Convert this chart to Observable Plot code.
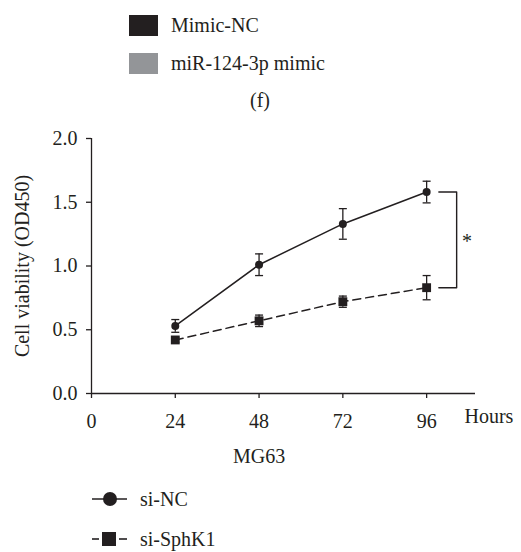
<!DOCTYPE html>
<html>
<head>
<meta charset="utf-8">
<script src="https://cdn.jsdelivr.net/npm/d3@7"></script>
<script src="https://cdn.jsdelivr.net/npm/@observablehq/plot@0.6"></script>
<style>
  html, body { margin: 0; padding: 0; background: #fff; }
  #wrap { position: relative; width: 521px; height: 552px; font-family: "Liberation Serif", serif; color: #231f20; overflow: hidden; }
  .lg { position: absolute; font-size: 20px; line-height: 20px; white-space: nowrap; }
  .sw { position: absolute; width: 29px; height: 21px; }
  #plot { position: absolute; left: 0; top: 110px; }
</style>
</head>
<body>
<div id="wrap">
  <div class="sw" style="left:129px;top:15px;background:#231f20"></div>
  <div class="lg" style="left:171px;top:15px">Mimic-NC</div>
  <div class="sw" style="left:129px;top:53px;background:#939598"></div>
  <div class="lg" style="left:171px;top:53px">miR-124-3p mimic</div>
  <div class="lg" style="left:250px;top:90px">(f)</div>
  <div id="plot"></div>
  <svg style="position:absolute;left:0;top:480px" width="140" height="72">
    <line x1="92" x2="127" y1="19" y2="19" stroke="#231f20" stroke-width="1.6"/>
    <circle cx="110" cy="19" r="7" fill="#231f20"/>
    <line x1="92" x2="99" y1="59" y2="59" stroke="#231f20" stroke-width="1.6"/>
    <line x1="119" x2="127" y1="59" y2="59" stroke="#231f20" stroke-width="1.6"/>
    <rect x="102" y="52" width="14" height="14" fill="#231f20"/>
  </svg>
  <div class="lg" style="left:140px;top:489px">si-NC</div>
  <div class="lg" style="left:140px;top:529px">si-SphK1</div>
</div>
<script>
const hours = [24, 48, 72, 96];
const xTicks = [0, 24, 48, 72, 96];
const yTicks = [0, 0.5, 1.0, 1.5, 2.0];
const siNC = [0.53, 1.01, 1.33, 1.58];
const siNCerr = [0.05, 0.085, 0.12, 0.085];
const siSphK1 = [0.42, 0.57, 0.72, 0.83];
const siSphK1err = [0.02, 0.045, 0.044, 0.095];
const xLabel = "MG63";
const xUnit = "Hours";
const yLabel = "Cell viability (OD450)";
const sigMark = "*";

const ink = "#231f20";
const rows = (vals, errs, s) => hours.map((h, i) => ({x: h, y: vals[i], lo: vals[i] - errs[i], hi: vals[i] + errs[i], s}));
const nc = rows(siNC, siNCerr, "si-NC");
const sp = rows(siSphK1, siSphK1err, "si-SphK1");
const all = nc.concat(sp);

const capSymbol = {
  draw(ctx, size) {
    const w = Math.sqrt(size / Math.PI);
    ctx.moveTo(-w, 0);
    ctx.lineTo(w, 0);
  }
};

const last = hours.length - 1;
const bx1 = hours[last] + 3.5, bx2 = hours[last] + 8.6;
const bracket = [
  {x: bx1, y: siNC[last]}, {x: bx2, y: siNC[last]},
  {x: bx2, y: siSphK1[last]}, {x: bx1, y: siSphK1[last]}
];

const chart = Plot.plot({
  width: 521,
  height: 368,
  marginLeft: 91,
  marginRight: 46,
  marginTop: 28,
  marginBottom: 85,
  x: {domain: [0, 110]},
  y: {domain: [0, 2]},
  style: {fontFamily: "Liberation Serif, serif", fontSize: "20px", color: ink, background: "transparent"},
  marks: [
    Plot.axisY({ticks: yTicks, tickFormat: d3.format(".1f"), tickSize: 5, tickPadding: 9, strokeWidth: 1.3,
      label: yLabel, labelAnchor: "center", labelArrow: "none", labelOffset: 77, fontSize: 20}),
    Plot.axisX({ticks: xTicks, tickSize: 5, tickPadding: 15, strokeWidth: 1.3, label: null, fontSize: 20}),
    Plot.ruleY([0], {stroke: ink, strokeWidth: 1.3}),
    Plot.ruleX([0], {stroke: ink, strokeWidth: 1.3}),
    Plot.ruleX(all, {x: "x", y1: "lo", y2: "hi", stroke: ink, strokeWidth: 1.3}),
    Plot.dot(all, {x: "x", y: "hi", symbol: capSymbol, r: 4, stroke: ink, strokeWidth: 1.3}),
    Plot.dot(all, {x: "x", y: "lo", symbol: capSymbol, r: 4, stroke: ink, strokeWidth: 1.3}),
    Plot.line(nc, {x: "x", y: "y", stroke: ink, strokeWidth: 1.5}),
    Plot.line(sp, {x: "x", y: "y", stroke: ink, strokeWidth: 1.5, strokeDasharray: "8,5"}),
    Plot.dot(nc, {x: "x", y: "y", r: 4, fill: ink, symbol: "circle"}),
    Plot.dot(sp, {x: "x", y: "y", r: 5, fill: ink, symbol: "square"}),
    Plot.line(bracket, {x: "x", y: "y", stroke: ink, strokeWidth: 1.4}),
    Plot.text([sigMark], {x: hours[last] + 11.6, y: (siNC[last] + siSphK1[last]) / 2, dy: 2, fontSize: 20, fill: ink}),
    Plot.text([xUnit], {frameAnchor: "bottom-right", textAnchor: "start", dx: -11, dy: 29, fontSize: 20, fill: ink}),
    Plot.text([xLabel], {x: d3.mean(xTicks.slice(0, 1).concat(hours.slice(-1))), frameAnchor: "bottom", dy: 69, fontSize: 20, fill: ink})
  ]
});
document.getElementById("plot").appendChild(chart);
</script>
</body>
</html>
